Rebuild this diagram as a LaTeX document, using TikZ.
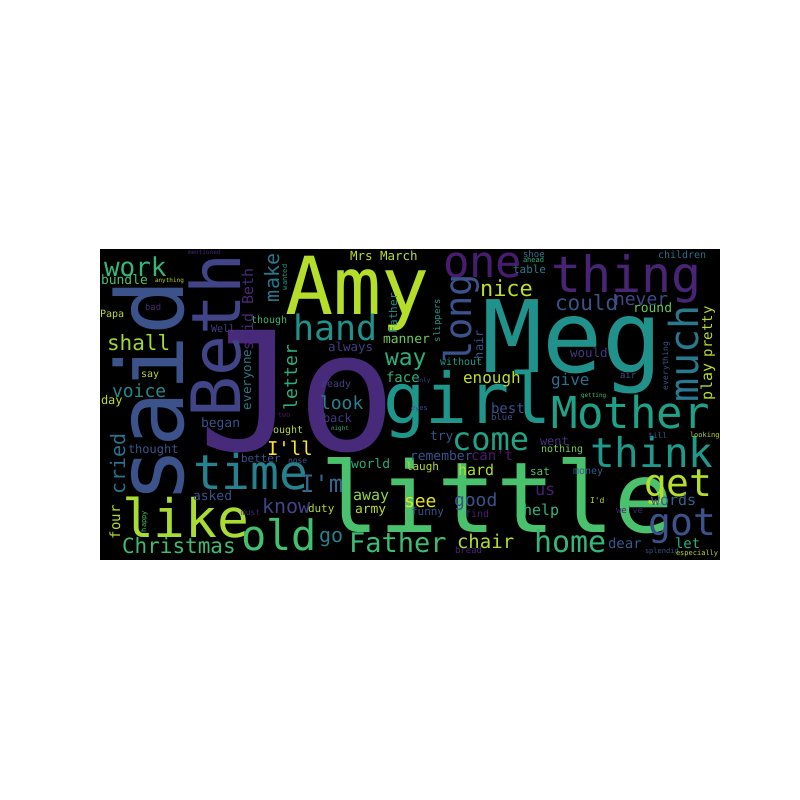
\documentclass[tikz,border=0pt]{standalone}
\usepackage{fontspec}
\newfontfamily\wcfont[Ligatures=TeXOff]{DejaVu Sans Mono}
\tikzset{wd/.style={inner sep=0pt, outer sep=0pt, anchor=base west}}
% horizontal word: size, colour(HTML), x of start, y of baseline, text
\newcommand\wh[5]{\definecolor{tmpc}{HTML}{#2}\node[wd, text=tmpc, font=\wcfont\fontsize{#1}{#1}\selectfont] at (#3,#4) {#5};}
% vertical word (reads bottom to top): size, colour, x of baseline, y of start, text
\newcommand\wv[5]{\definecolor{tmpc}{HTML}{#2}\node[wd, rotate=90, text=tmpc, font=\wcfont\fontsize{#1}{#1}\selectfont] at (#3,#4) {#5};}
\begin{document}
\begin{tikzpicture}[x=1pt,y=-1pt]
\useasboundingbox (0,0) rectangle (800,800);
\fill[white] (0,0) rectangle (800,800);
\fill[black] (100,249) rectangle (720,560);
\begin{scope}
\clip (100,249) rectangle (720,560);
% big words
\wh{165}{472A7A}{198}{450}{Jo}
\wh{100}{21918C}{482}{372}{Meg}
\wh{98}{4AC16D}{320}{532}{little}
\wh{80}{B5DE2B}{285}{314}{Amy}
\wh{70}{1F968B}{383}{423}{girl}
\wv{93}{3B528B}{183}{503}{said}
\wv{68}{414487}{240}{417}{Beth}
\wh{44}{1FA187}{551}{428}{Mother}
\wh{41}{1F9A8A}{590}{467}{think}
\wh{50}{482475}{551}{292}{thing}
\wh{44}{481D6F}{443}{277}{one}
\wh{53}{A8DB34}{122}{537}{like}
\wh{48}{26828E}{193}{489}{time}
\wh{35}{21918C}{293}{340}{hand}
\wh{32}{20A386}{452}{450}{come}
\wh{38}{B5DE2B}{644}{496}{get}
\wh{38}{3B528B}{648}{535}{got}
\wh{30}{35B779}{534}{552}{home}
\wh{42}{44BF70}{241}{550}{old}
\wh{27}{3DBC74}{349}{552}{Father}
\wv{37}{3B528B}{471}{363}{long}
\wv{40}{2A788E}{698}{402}{much}
% medium words
\wh{26}{35B779}{104}{276}{work}
\wh{21}{A0DA39}{107}{350}{shall}
\wh{18}{23888E}{112}{397}{voice}
\wh{21}{3DBC74}{122}{553}{Christmas}
\wh{21}{3B528B}{555}{310}{could}
\wh{18}{3E4989}{614}{305}{never}
\wh{13}{65CB5E}{633}{312}{round}
\wh{22}{BDDF26}{480}{296}{nice}
\wh{23}{2AB07F}{385}{365}{way}
\wh{14}{2FB47C}{386}{382}{face}
\wh{16}{C2DF23}{463}{383}{enough}
\wh{13}{6CCD5A}{383}{343}{manner}
\wh{12.5}{423F85}{328}{351}{always}
\wh{18}{26828E}{320}{409}{look}
\wh{12}{443983}{323}{422}{back}
\wh{10}{433E85}{321}{387}{ready}
\wh{14}{3B528B}{491}{413}{best}
\wh{9}{3B528B}{491}{420}{blue}
\wh{13}{39568C}{430}{440}{try}
\wh{13}{3B528B}{410}{460}{remember}
\wh{14}{481B6D}{471}{460}{can't}
\wh{12}{46337F}{540}{445}{went}
\wh{10}{7AD151}{541}{452}{nothing}
\wh{13}{25AC82}{351}{468}{world}
\wh{11}{BADE28}{406}{470}{laugh}
\wh{15}{B5DE2B}{458}{475}{hard}
\wh{17}{481F70}{535}{495}{us}
\wh{11}{52C569}{530}{475}{sat}
\wh{10}{365D8D}{573}{474}{money}
\wh{15}{32B67A}{523}{515}{help}
\wh{15}{33638D}{651}{505}{words}
\wh{14}{38598C}{608}{548}{dear}
\wh{14}{2DB27D}{675}{548}{let}
\wh{24}{31688E}{300}{492}{I'm}
\wh{19}{FDE725}{267}{455}{I'll}
\wh{13}{3B528B}{201}{427}{began}
\wh{10}{BADE28}{273}{433}{ought}
\wh{12}{39568C}{128}{453}{thought}
\wh{11}{3B528B}{241}{462}{better}
\wh{13}{3B528B}{193}{500}{asked}
\wh{20}{414487}{262}{513}{know}
\wh{20}{26828E}{319}{542}{go}
\wh{11}{BADE28}{308}{512}{duty}
\wh{15}{93D741}{353}{500}{away}
\wh{18}{E5E419}{404}{507}{see}
\wh{13}{BADE28}{355}{513}{army}
\wh{18}{3B528B}{454}{506}{good}
\wh{11}{3B528B}{411}{515}{funny}
\wh{10}{482173}{465}{517}{find}
\wh{19}{B0DD2F}{457}{548}{chair}
\wh{9}{482576}{455}{553}{bread}
\wh{16}{2D708E}{551}{385}{give}
\wh{12.5}{453781}{570}{357}{would}
\wh{9}{3B528B}{620}{378}{air}
\wh{12}{BADE28}{101}{404}{day}
\wh{10}{BADE28}{141}{377}{say}
\wh{10}{BADE28}{100}{317}{Papa}
\wh{13}{4AC16D}{101}{284}{bundle}
\wh{9}{482576}{145}{310}{bad}
\wh{10}{414487}{211}{332}{Well}
\wh{10}{3ABA76}{251}{323}{though}
\wh{12.5}{BADE28}{350}{260}{Mrs March}
\wh{10}{1F9F88}{440}{365}{without}
\wh{10}{2C728E}{658}{258}{children}
\wh{11}{287C8E}{513}{273}{table}
\wh{9}{2A778E}{523}{257}{shoe}
\wh{7}{2DB27D}{523}{262}{ahead}
\wh{8}{3B528B}{648}{438}{till}
\wh{7}{BADE28}{690}{437}{looking}
\wh{6}{BADE28}{155}{282}{anything}
\wh{6}{482878}{188}{254}{mentioned}
\wh{7}{3B528B}{411}{410}{eyes}
\wh{6}{2DB27D}{331}{430}{night}
\wh{7}{3B528B}{645}{553}{splendid}
\wh{7}{BADE28}{676}{555}{especially}
\wh{9}{482173}{616}{513}{we've}
\wh{8}{BADE28}{590}{503}{I'd}
\wh{6}{4AC16D}{581}{397}{getting}
\wh{7}{471164}{278}{417}{two}
\wh{8}{482173}{241}{515}{must}
\wh{8}{3B528B}{288}{463}{nose}
\wh{6}{414487}{416}{382}{only}
% vertical small words
\wv{15}{482878}{253}{350}{said Beth}
\wv{12.5}{2A788E}{251}{410}{everyone}
\wv{20}{2A788E}{279}{302}{make}
\wv{7}{1F9E89}{287}{290}{wanted}
\wv{18}{29AF7F}{297}{410}{letter}
\wv{12}{3B528B}{483}{359}{hair}
\wv{9}{1F998A}{440}{342}{slippers}
\wv{11}{21908D}{397}{333}{Father}
\wv{20}{2C728E}{125}{494}{cried}
\wv{14}{BADE28}{120}{539}{four}
\wv{7}{4AC16D}{146}{532}{happy}
\wv{14}{BADE28}{712}{357}{pretty}
\wv{15}{BADE28}{712}{400}{play}
\wv{8}{3B528B}{668}{390}{everything}
\end{scope}
\end{tikzpicture}
\end{document}
